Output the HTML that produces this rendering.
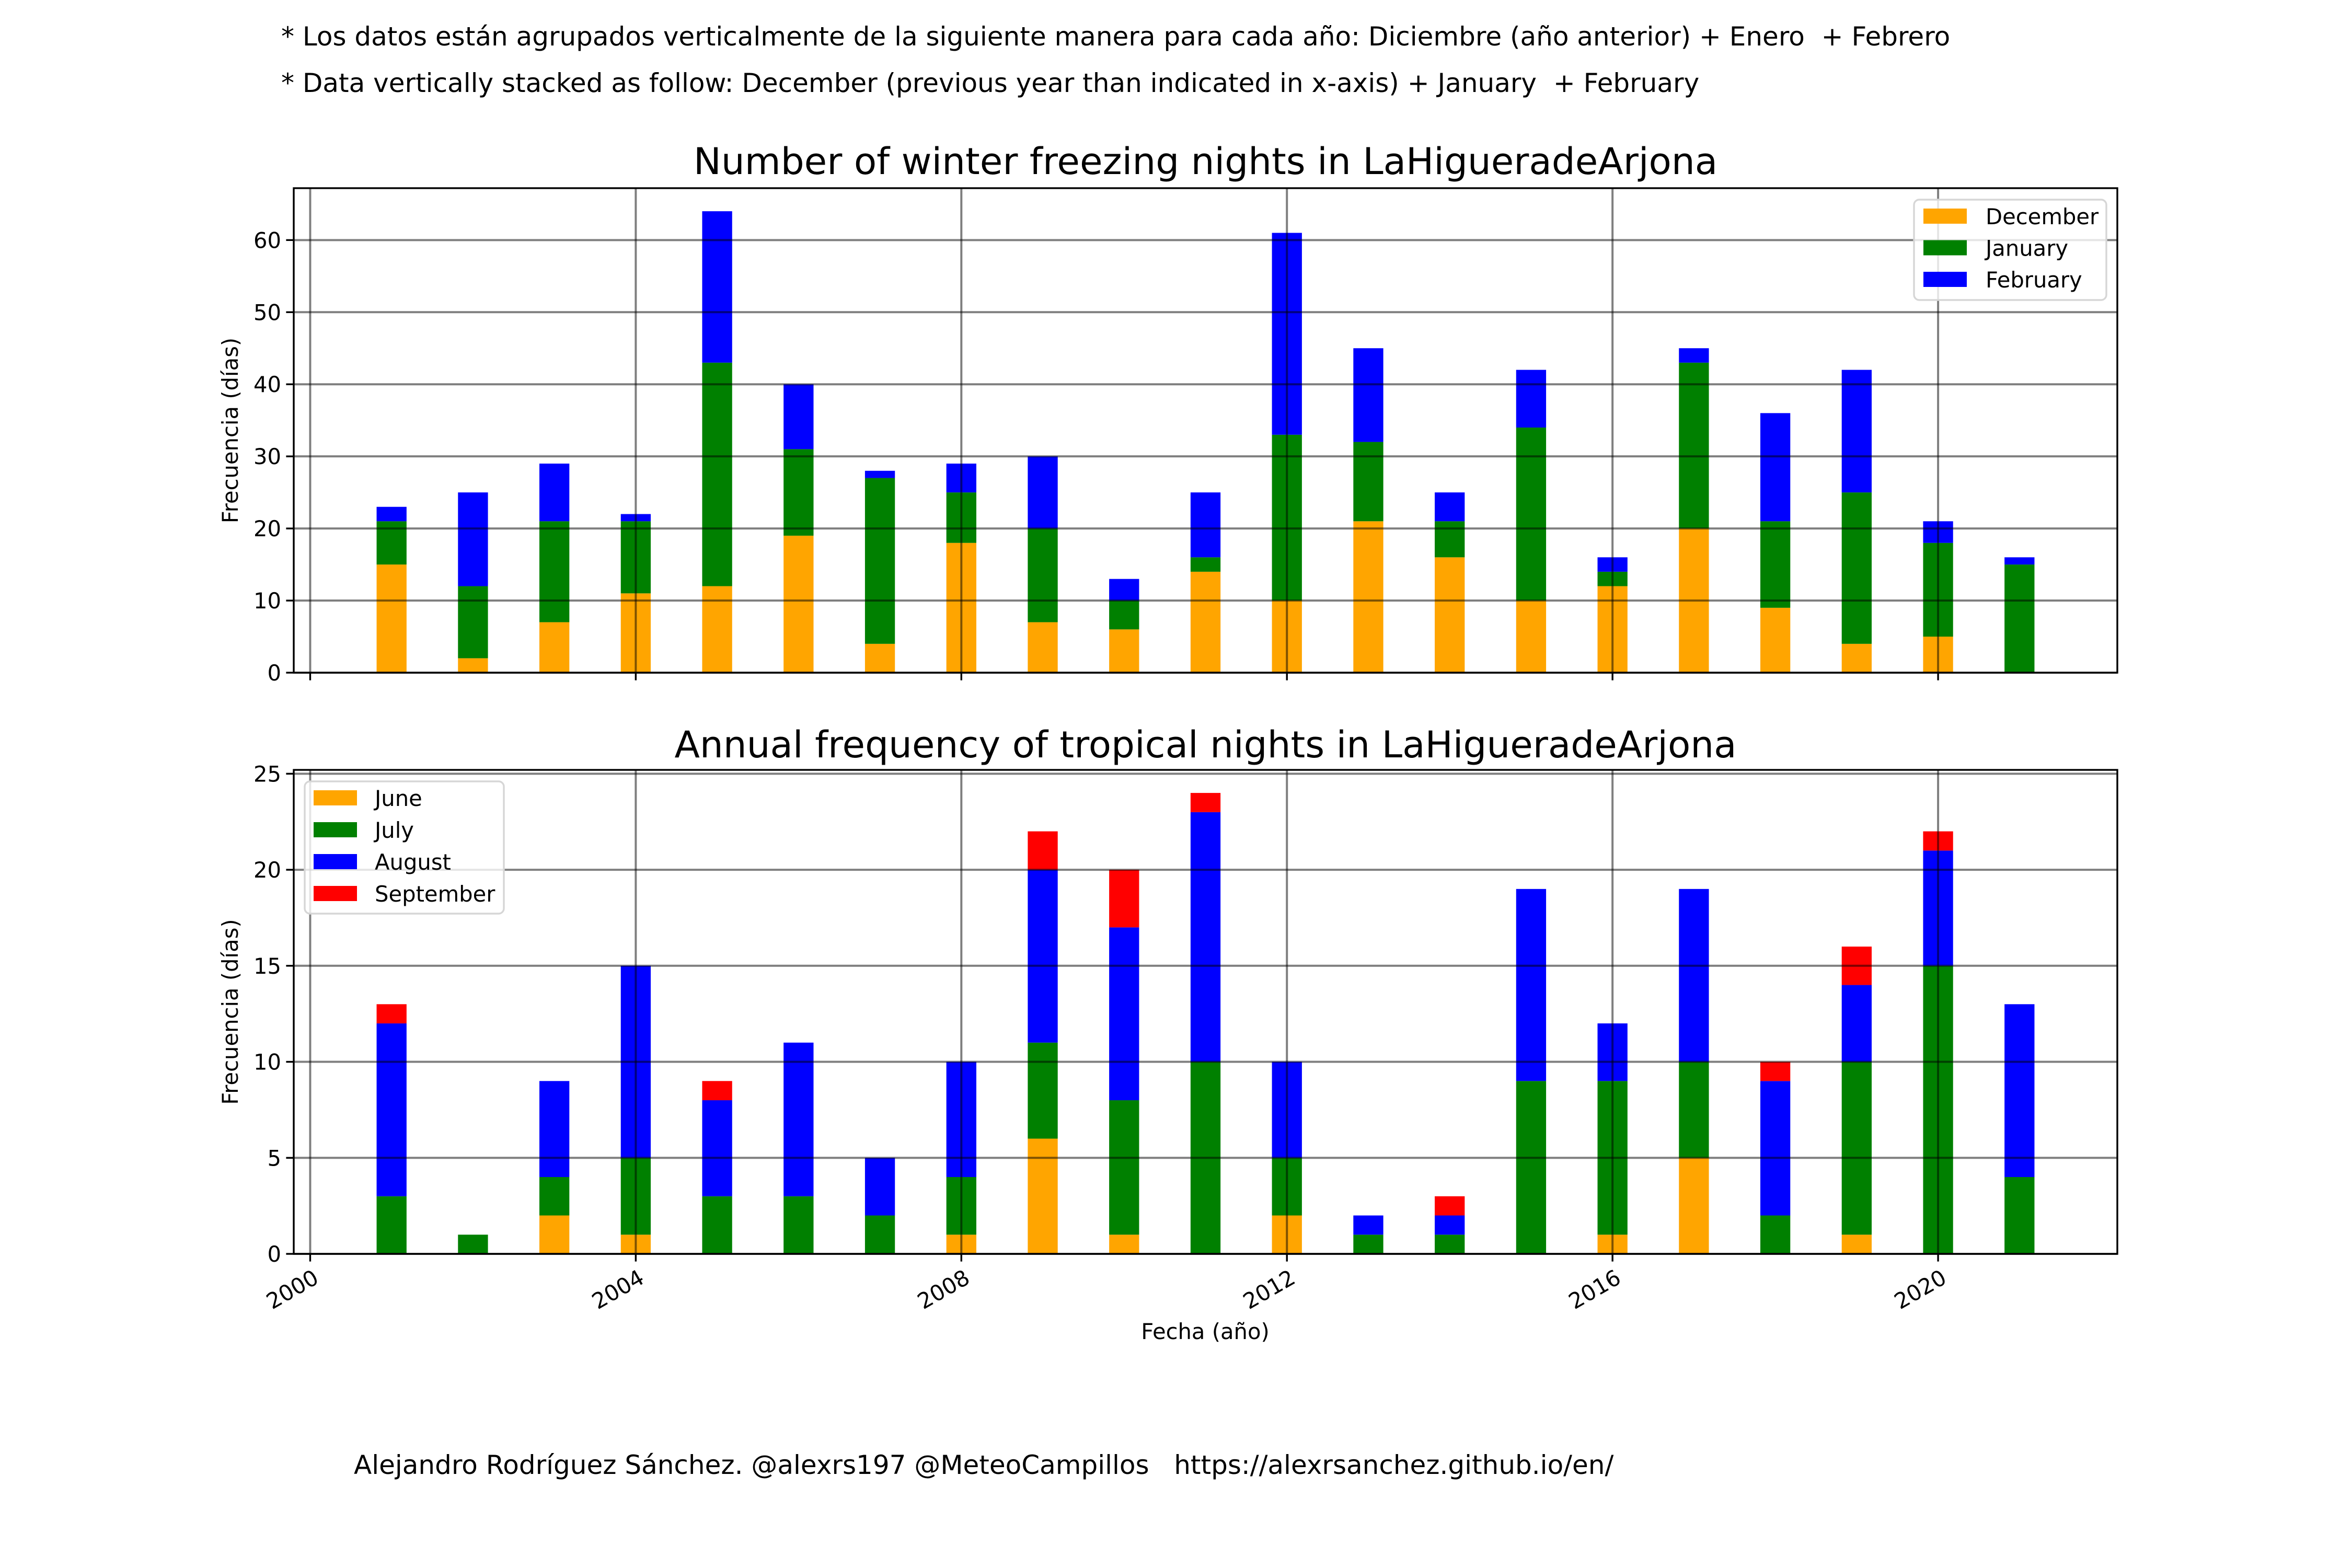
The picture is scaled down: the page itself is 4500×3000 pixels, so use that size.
<!DOCTYPE html>
<html><head><meta charset="utf-8"><style>
html,body{margin:0;padding:0;background:#fff;}
svg{display:block;font-family:"DejaVu Sans","Liberation Sans",sans-serif;}
text{white-space:pre;}
</style></head><body>
<svg id="fig" width="4500" height="3000" viewBox="0 0 4500 3000" xmlns="http://www.w3.org/2000/svg" xml:space="preserve">
<rect width="4500" height="3000" fill="#fff"/>
<text x="538" y="87" font-size="50">* Los datos están agrupados verticalmente de la siguiente manera para cada año: Diciembre (año anterior) + Enero  + Febrero</text>
<text x="538" y="176" font-size="50">* Data vertically stacked as follow: December (previous year than indicated in x-axis) + January  + February</text>
<text x="677" y="2820" font-size="50">Alejandro Rodríguez Sánchez. @alexrs197 @MeteoCampillos   https://alexrsanchez.github.io/en/</text>
<g id="top"></g>
<g id="bot"></g>
</svg>
<script>
const years = [2001,2002,2003,2004,2005,2006,2007,2008,2009,2010,2011,2012,2013,2014,2015,2016,2017,2018,2019,2020,2021];
const december = [15,2,7,11,12,19,4,18,7,6,14,10,21,16,10,12,20,9,4,5,0];
const january  = [6,10,14,10,31,12,23,7,13,4,2,23,11,5,24,2,23,12,21,13,15];
const february = [2,13,8,1,21,9,1,4,10,3,9,28,13,4,8,2,2,15,17,3,1];
const june      = [0,0,2,1,0,0,0,1,6,1,0,2,0,0,0,1,5,0,1,0,0];
const july      = [3,1,2,4,3,3,2,3,5,7,10,3,1,1,9,8,5,2,9,15,4];
const august    = [9,0,5,10,5,8,3,6,9,9,13,5,1,1,10,3,9,7,4,6,9];
const september = [1,0,0,0,1,0,0,0,2,3,1,0,0,1,0,0,0,1,2,1,0];
const xTicks = [2000,2004,2008,2012,2016,2020];
const topYTicks = [0,10,20,30,40,50,60];
const botYTicks = [0,5,10,15,20,25];

const NS='http://www.w3.org/2000/svg';
function el(parent,tag,attrs,text){const e=document.createElementNS(NS,tag);for(const k in attrs)e.setAttribute(k,attrs[k]);if(text!==undefined)e.textContent=text;parent.appendChild(e);return e;}
const X0=562,X1=4051,XMIN=1999.798,XMAX=2022.202;
const xs=v=>X0+(v-XMIN)/(XMAX-XMIN)*(X1-X0);
const BW=0.368;
const FS=41.7;

function chart(g,top,bottom,ymax,yticks,series,colors,names,title,titleY,legend,showXLabels,prefix){
  const ys=v=>bottom-v/ymax*(bottom-top);
  years.forEach((yr,i)=>{
    let base=0;
    series.forEach((s,j)=>{
      const v=s[i];
      if(v>0){
        const r=el(g,'rect',{x:xs(yr-BW/2),y:ys(base+v),width:xs(yr+BW/2)-xs(yr-BW/2),height:ys(base)-ys(base+v),fill:colors[j]});
        
        
      }
      base+=v;
    });
  });
  yticks.forEach(t=>{
    const l=el(g,'line',{x1:X0,x2:X1,y1:ys(t),y2:ys(t),stroke:'#000','stroke-opacity':0.5,'stroke-width':4});
    
    
  });
  xTicks.forEach(t=>{
    const l=el(g,'line',{x1:xs(t),x2:xs(t),y1:top,y2:bottom,stroke:'#000','stroke-opacity':0.5,'stroke-width':4});
    
    
  });
  const fr=el(g,'rect',{x:X0,y:top,width:X1-X0,height:bottom-top,fill:'none',stroke:'#000','stroke-width':3.4});
  
  
  yticks.forEach(t=>{
    el(g,'line',{x1:X0-14.6,x2:X0,y1:ys(t),y2:ys(t),stroke:'#000','stroke-width':3.4});
    const tx=el(g,'text',{x:X0-24,y:ys(t)+15,'font-size':FS,'text-anchor':'end'},String(t));
    
    
  });
  xTicks.forEach(t=>{
    el(g,'line',{x1:xs(t),x2:xs(t),y1:bottom,y2:bottom+14.6,stroke:'#000','stroke-width':3.4});
    if(showXLabels){
      const tx=el(g,'text',{x:0,y:0,'font-size':FS,'text-anchor':'end',transform:`translate(${xs(t)+4},${bottom+28}) rotate(-30) translate(0,30)`},String(t));
      
      
    }
  });
  const yl=el(g,'text',{x:0,y:0,'font-size':FS,'text-anchor':'middle',transform:`translate(455,${(top+bottom)/2}) rotate(-90)`},'Frecuencia (días)');
  
  
  const ti=el(g,'text',{x:(X0+X1)/2,y:titleY,'font-size':70.8,'text-anchor':'middle'},title);
  
  
  const lg=el(g,'g',{});
  
  
  el(lg,'rect',{x:legend.x,y:legend.y,width:legend.w,height:legend.h,rx:10,fill:'#fff','fill-opacity':0.8,stroke:'#d6d6d6','stroke-width':3.4});
  names.forEach((n,j)=>{
    const py=legend.py+j*legend.step;
    const en=el(lg,'g',{});
    
    
    el(en,'rect',{x:legend.px,y:py,width:83,height:29,fill:colors[j]});
    el(en,'text',{x:legend.tx,y:py+30,'font-size':41.7},n);
  });
}
chart(document.getElementById('top'),360,1287,67.2,topYTicks,[december,january,february],['#ffa500','#008000','#0000ff'],['December','January','February'],'Number of winter freezing nights in LaHigueradeArjona',333,{x:3662,y:382,w:368,h:192,px:3680,py:399,step:60.5,tx:3799},false,'winter');
chart(document.getElementById('bot'),1473,2399,25.2,botYTicks,[june,july,august,september],['#ffa500','#008000','#0000ff','#ff0000'],['June','July','August','September'],'Annual frequency of tropical nights in LaHigueradeArjona',1449,{x:583,y:1495,w:381,h:253,px:600,py:1512,step:61,tx:717},true,'tropical');
const xl=el(document.getElementById('bot'),'text',{x:2306,y:2562,'font-size':FS,'text-anchor':'middle'},'Fecha (año)');


</script>
</body></html>
